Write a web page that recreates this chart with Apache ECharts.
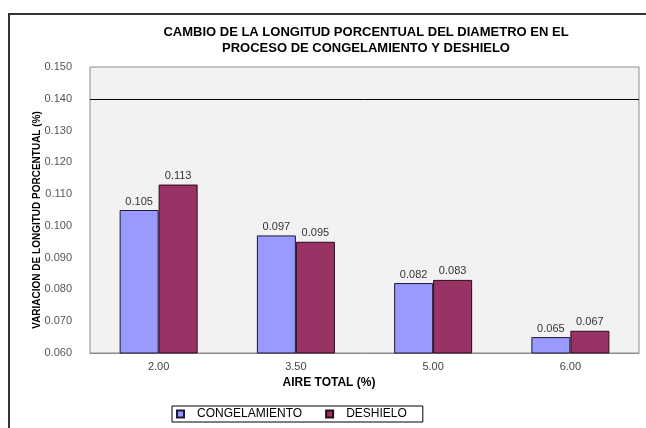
<!DOCTYPE html>
<html>
<head>
<meta charset="utf-8">
<script src="https://cdn.jsdelivr.net/npm/echarts@6/dist/echarts.min.js"></script>
<style>
  html, body { margin: 0; padding: 0; background: #fff; }
  #chart { width: 646px; height: 428px; }
</style>
</head>
<body>
<div id="chart"></div>
<script>
const categories = ['2.00', '3.50', '5.00', '6.00'];
const congelamiento = [0.105, 0.097, 0.082, 0.065];
const deshielo = [0.113, 0.095, 0.083, 0.067];
const limite = 0.140;

const font = '"Liberation Sans", Arial, sans-serif';

const options = {
  backgroundColor: '#fff',
  animation: false,
  title: {
    text: 'CAMBIO DE LA LONGITUD PORCENTUAL DEL DIAMETRO EN EL\nPROCESO DE CONGELAMIENTO Y DESHIELO',
    left: 361,
    top: 19,
    textAlign: 'center',
    textStyle: {
      fontFamily: font,
      fontWeight: 'bold',
      fontSize: 13,
      lineHeight: 16,
      color: '#000'
    }
  },
  graphic: [
    {
      type: 'polyline',
      shape: { points: [[9, 440], [9, 14], [660, 14]] },
      style: { stroke: '#333', lineWidth: 2, fill: null },
      silent: true
    }
  ],
  legend: {
    data: ['CONGELAMIENTO', 'DESHIELO'],
    left: 172,
    top: 406,
    icon: 'rect',
    itemWidth: 7,
    itemHeight: 7,
    itemGap: 23,
    borderColor: '#000',
    borderWidth: 1,
    borderRadius: 0,
    padding: [2, 16, 2, 4],
    textStyle: {
      fontFamily: font,
      fontSize: 12,
      color: '#000',
      padding: [0, 0, 0, 8]
    }
  },
  grid: {
    left: 90,
    right: 7,
    top: 67,
    bottom: 75,
    show: true,
    backgroundColor: '#f2f2f2',
    borderColor: '#8c8c8c',
    borderWidth: 1
  },
  xAxis: {
    type: 'category',
    data: categories,
    name: 'AIRE TOTAL (%)',
    nameLocation: 'middle',
    nameGap: 21,
    nameTextStyle: {
      fontFamily: font,
      fontWeight: 'bold',
      fontSize: 12,
      color: '#000',
      padding: [0, 71, 0, 0]
    },
    axisLine: { lineStyle: { color: '#8c8c8c' } },
    axisTick: { show: false },
    axisLabel: {
      fontFamily: font,
      fontSize: 11,
      color: '#444',
      margin: 8
    }
  },
  yAxis: {
    type: 'value',
    min: 0.06,
    max: 0.15,
    interval: 0.01,
    name: 'VARIACION DE LONGITUD PORCENTUAL (%)',
    nameLocation: 'middle',
    nameGap: 48,
    nameMoveOverlap: false,
    nameTextStyle: {
      fontFamily: font,
      fontWeight: 'bold',
      fontSize: 10,
      color: '#000',
      padding: [0, 20, 0, 0]
    },
    axisLine: { show: false },
    axisTick: { show: false },
    splitLine: { show: false },
    axisLabel: {
      fontFamily: font,
      fontSize: 11,
      color: '#555',
      margin: 18,
      formatter: v => v.toFixed(3)
    }
  },
  series: [
    {
      name: 'CONGELAMIENTO',
      type: 'bar',
      data: congelamiento,
      barWidth: 39,
      barGap: '0%',
      itemStyle: { color: '#9999ff', borderColor: '#1a1a33', borderWidth: 1 },
      label: {
        show: true,
        position: 'top',
        distance: 3,
        fontFamily: font,
        fontSize: 11,
        color: '#333',
        formatter: p => p.value.toFixed(3)
      },
      markLine: {
        silent: true,
        symbol: 'none',
        label: { show: false },
        lineStyle: { color: '#000', type: 'solid', width: 1 },
        data: [{ yAxis: limite }]
      }
    },
    {
      name: 'DESHIELO',
      type: 'bar',
      data: deshielo,
      barWidth: 39,
      itemStyle: { color: '#993366', borderColor: '#2a0a1a', borderWidth: 1 },
      label: {
        show: true,
        position: 'top',
        distance: 3,
        fontFamily: font,
        fontSize: 11,
        color: '#333',
        formatter: p => p.value.toFixed(3)
      }
    }
  ]
};

echarts.init(document.getElementById('chart')).setOption(options);
</script>
</body>
</html>
